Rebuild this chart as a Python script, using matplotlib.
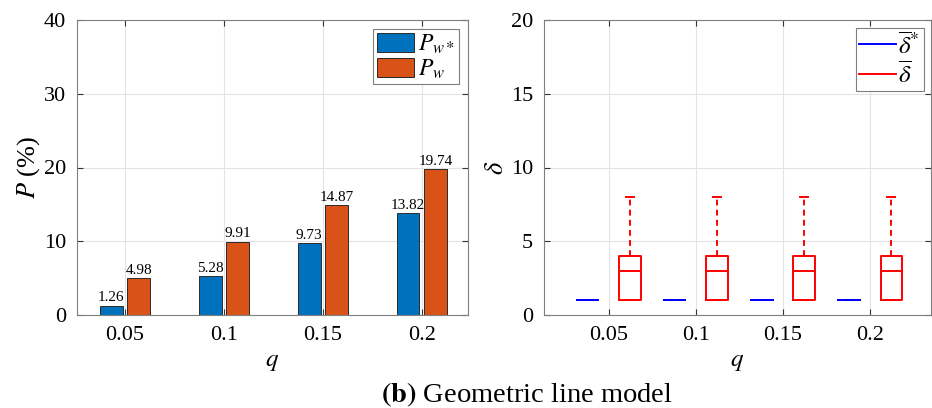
import matplotlib
matplotlib.use("Agg")
import matplotlib.pyplot as plt
from matplotlib.lines import Line2D
import numpy as np

plt.rcParams['font.family'] = ['Liberation Serif', 'DejaVu Serif']
plt.rcParams['mathtext.fontset'] = 'stix'

# data
q_labels = ['0.05', '0.1', '0.15', '0.2']
p_wstar = [1.26, 5.28, 9.73, 13.82]
p_w = [4.98, 9.91, 14.87, 19.74]

# delta* : all samples equal 1
dstar_lo = [1, 1, 1, 1]
dstar_q1 = [1, 1, 1, 1]
dstar_med = [1, 1, 1, 1]
dstar_q3 = [1, 1, 1, 1]
dstar_hi = [1, 1, 1, 1]
# delta
d_lo = [1, 1, 1, 1]
d_q1 = [1, 1, 1, 1]
d_med = [3, 3, 3, 3]
d_q3 = [4, 4, 4, 4]
d_hi = [8, 8, 8, 8]

W, H = 932, 408
fig = plt.figure(figsize=(W / 100, H / 100), dpi=100)

blue = '#0072BD'
orange = '#D95319'
spine_c = '#7f7f7f'


def style_axes(ax):
    for s in ax.spines.values():
        s.set_color(spine_c)
        s.set_linewidth(0.8)
    ax.tick_params(direction='in', length=4, color='#333333', labelsize=16,
                   top=True, right=True, pad=8)
    ax.grid(True, color='#e3e3e3', linewidth=0.8)
    ax.set_axisbelow(True)


# left: bar chart
ax1 = fig.add_axes([77 / W, 93 / H, (468 - 77) / W, 295 / H])
x = np.arange(1, len(q_labels) + 1)
bw = 0.23
off = 0.14
b1 = ax1.bar(x - off, p_wstar, bw, color=blue, edgecolor='#2b2b2b', linewidth=0.7,
             label=r'$P_{w*}$')
b2 = ax1.bar(x + off, p_w, bw, color=orange, edgecolor='#2b2b2b', linewidth=0.7,
             label=r'$P_{w}$')
for bars, vals in ((b1, p_wstar), (b2, p_w)):
    for r, v in zip(bars, vals):
        ax1.text(r.get_x() + r.get_width() / 2, v + 0.2, f'{v:.2f}',
                 ha='center', va='bottom', fontsize=11)
ax1.set_xlim(0.515, 4.465)
ax1.set_ylim(0, 40)
ax1.set_xticks(x)
ax1.set_xticklabels(q_labels)
ax1.set_yticks([0, 10, 20, 30, 40])
ax1.set_xlabel(r'$q$', fontsize=18, labelpad=4)
ax1.set_ylabel(r'$P$ (%)', fontsize=19)
ax1.yaxis.set_label_coords(-0.09, 0.5)
style_axes(ax1)
leg1 = ax1.legend(loc='upper right', fontsize=17, handlelength=1.6, handleheight=0.85,
                  borderaxespad=0.4, borderpad=0.15, labelspacing=0.05,
                  handletextpad=0.15, fancybox=False, framealpha=1)
leg1.get_frame().set_edgecolor(spine_c)
leg1.get_frame().set_linewidth(0.8)

# right: box plots
ax2 = fig.add_axes([544 / W, 93 / H, (931 - 544) / W, 295 / H])
boff = 0.245
bwid = 0.25
stats_star = [dict(whislo=a, q1=b, med=c, q3=d, whishi=e, fliers=[])
              for a, b, c, d, e in zip(dstar_lo, dstar_q1, dstar_med, dstar_q3, dstar_hi)]
stats_d = [dict(whislo=a, q1=b, med=c, q3=d, whishi=e, fliers=[])
           for a, b, c, d, e in zip(d_lo, d_q1, d_med, d_q3, d_hi)]
for stats, pos, col in ((stats_star, x - boff, 'blue'), (stats_d, x + boff, 'red')):
    ax2.bxp(stats, positions=pos, widths=bwid, capwidths=0.09, manage_ticks=False,
            boxprops=dict(color=col, linewidth=1.4),
            medianprops=dict(color=col, linewidth=1.4),
            whiskerprops=dict(color=col, linewidth=1.4, linestyle=(0, (3, 2.2))),
            capprops=dict(color=col, linewidth=1.4))
ax2.set_xlim(0.255, 4.7)
ax2.set_ylim(0, 20)
ax2.set_xticks(x)
ax2.set_xticklabels(q_labels)
ax2.set_yticks([0, 5, 10, 15, 20])
ax2.set_xlabel(r'$q$', fontsize=18, labelpad=4)
ax2.set_ylabel(r'$\delta$', fontsize=19)
ax2.yaxis.set_label_coords(-0.093, 0.5)
style_axes(ax2)
handles = [Line2D([], [], color='blue', linewidth=1.4),
           Line2D([], [], color='red', linewidth=1.4)]
leg2 = ax2.legend(handles, [r'$\overline{\delta}^{*}$', r'$\overline{\delta}$'],
                  loc='upper right', fontsize=18, handlelength=1.45,
                  borderaxespad=0.3, borderpad=0.15, labelspacing=0.1,
                  handletextpad=0.1, fancybox=False, framealpha=1)
leg2.get_frame().set_edgecolor(spine_c)
leg2.get_frame().set_linewidth(0.8)

fig.text(527 / W, 1 - 395 / H, r'$\mathbf{(b)}$ Geometric line model',
         ha='center', va='center', fontsize=20.5)

fig.savefig('out.png', dpi=100)
